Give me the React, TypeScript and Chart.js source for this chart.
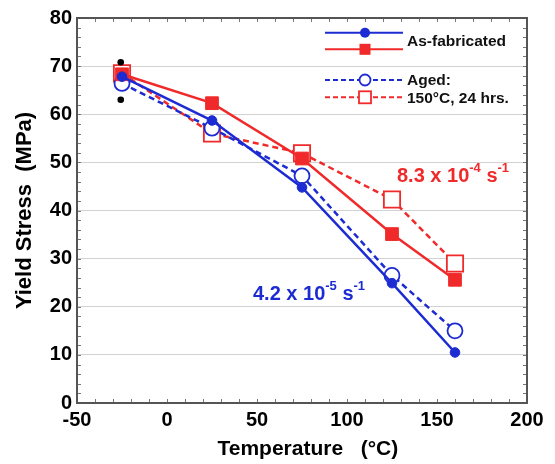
import React, { useEffect, useRef } from 'react';
import { Chart, registerables } from 'chart.js';

Chart.register(...registerables);

// ---- data ----
const temperatures = [-25, 25, 75, 125, 160];
const asFabSlow = [67.8, 58.7, 44.8, 24.9, 10.5]; // 4.2e-5 /s, as-fabricated (blue filled)
const asFabFast = [68.3, 62.3, 50.8, 35.1, 25.6]; // 8.3e-4 /s, as-fabricated (red filled)
const agedSlow = [66.4, 57.1, 47.2, 26.5, 15.0]; // aged (blue open)
const agedFast = [68.5, 56.0, 51.9, 42.3, 29.0]; // aged (red open)
const extraX = [-25.7, -25.7];
const extraY = [70.8, 63.0];

const xTicks = [-50, 0, 50, 100, 150, 200];
const yTicks = [0, 10, 20, 30, 40, 50, 60, 70, 80];

const BLUE = '#1c2bd2';
const RED = '#f02a2a';
const FONT = '"Liberation Sans", Arial, sans-serif';

const toPts = (xs: number[], ys: number[]) => xs.map((x, i) => ({ x, y: ys[i] }));

function drawSci(ctx: CanvasRenderingContext2D, x: number, baseline: number, color: string,
  parts: { t: string; sup: boolean }[]) {
  ctx.fillStyle = color;
  ctx.textAlign = 'left';
  ctx.textBaseline = 'alphabetic';
  let cx = x;
  for (const p of parts) {
    ctx.font = p.sup ? `bold 13px ${FONT}` : `bold 20px ${FONT}`;
    ctx.fillText(p.t, cx, p.sup ? baseline - 10 : baseline);
    cx += ctx.measureText(p.t).width;
  }
}

const decorPlugin = {
  id: 'decor',
  afterDraw(chart: any) {
    const { ctx, chartArea } = chart;
    const { left, right, top, bottom } = chartArea;
    const xs = chart.scales.x;
    const ys = chart.scales.y;
    ctx.save();
    // minor ticks inside on all sides
    ctx.strokeStyle = '#777';
    ctx.lineWidth = 1;
    ctx.beginPath();
    for (let v = -40; v < 200; v += 10) {
      const px = Math.round(xs.getPixelForValue(v)) + 0.5;
      ctx.moveTo(px, bottom); ctx.lineTo(px, bottom - 4);
      ctx.moveTo(px, top); ctx.lineTo(px, top + 4);
    }
    for (let v = 2; v < 80; v += 2) {
      const py = Math.round(ys.getPixelForValue(v)) + 0.5;
      ctx.moveTo(left, py); ctx.lineTo(left + 4, py);
      ctx.moveTo(right, py); ctx.lineTo(right - 4, py);
    }
    ctx.stroke();
    // frame
    ctx.strokeStyle = '#555';
    ctx.lineWidth = 2;
    ctx.strokeRect(left, top, right - left, bottom - top);

    // legend
    const lx0 = 325, lx1 = 403, mx = 365;
    const legendLine = (y: number, color: string, dashed: boolean) => {
      ctx.beginPath();
      ctx.strokeStyle = color;
      ctx.lineWidth = 2;
      ctx.setLineDash(dashed ? [5, 3] : []);
      ctx.moveTo(lx0, y); ctx.lineTo(lx1, y);
      ctx.stroke();
      ctx.setLineDash([]);
    };
    legendLine(32.7, BLUE, false);
    ctx.beginPath(); ctx.fillStyle = BLUE; ctx.arc(mx, 32.7, 5, 0, Math.PI * 2); ctx.fill();
    legendLine(49.3, RED, false);
    ctx.fillStyle = RED; ctx.fillRect(mx - 5.5, 49.3 - 5.5, 11, 11);
    legendLine(80, BLUE, true);
    ctx.beginPath(); ctx.fillStyle = '#fff'; ctx.strokeStyle = BLUE; ctx.lineWidth = 1.8;
    ctx.arc(mx, 80, 5.5, 0, Math.PI * 2); ctx.fill(); ctx.stroke();
    legendLine(97.3, RED, true);
    ctx.fillStyle = '#fff'; ctx.strokeStyle = RED; ctx.lineWidth = 1.8;
    ctx.fillRect(mx - 6, 97.3 - 6, 12, 12); ctx.strokeRect(mx - 6, 97.3 - 6, 12, 12);

    ctx.fillStyle = '#111';
    ctx.font = `bold 15.5px ${FONT}`;
    ctx.textAlign = 'left';
    ctx.textBaseline = 'middle';
    ctx.fillText('As-fabricated', 407, 42);
    ctx.fillText('Aged:', 407, 81);
    ctx.fillText('150°C, 24 hrs.', 407, 98.5);

    // rate annotations
    drawSci(ctx, 397, 182, RED, [
      { t: '8.3 x 10', sup: false }, { t: '-4', sup: true }, { t: ' s', sup: false }, { t: '-1', sup: true },
    ]);
    drawSci(ctx, 253, 300, BLUE, [
      { t: '4.2 x 10', sup: false }, { t: '-5', sup: true }, { t: ' s', sup: false }, { t: '-1', sup: true },
    ]);
    ctx.restore();
  },
};

export default function App() {
  const ref = useRef<HTMLCanvasElement>(null);
  useEffect(() => {
    const chart = new Chart(ref.current!, {
      type: 'scatter',
      data: {
        datasets: [
          {
            label: 'extra',
            data: toPts(extraX, extraY),
            showLine: false,
            pointStyle: 'circle',
            pointRadius: 3.3,
            backgroundColor: '#000',
            borderColor: '#000',
            borderWidth: 0,
          },
          {
            label: 'As-fabricated 4.2e-5',
            data: toPts(temperatures, asFabSlow),
            showLine: true,
            borderColor: BLUE,
            backgroundColor: BLUE,
            borderWidth: 2.5,
            pointStyle: 'circle',
            pointRadius: 4.8,
            pointBorderWidth: 1,
          },
          {
            label: 'As-fabricated 8.3e-4',
            data: toPts(temperatures, asFabFast),
            showLine: true,
            borderColor: RED,
            backgroundColor: RED,
            borderWidth: 2.5,
            pointStyle: 'rect',
            pointRadius: 9,
            pointBorderWidth: 1,
          },
          {
            label: 'Aged 4.2e-5',
            data: toPts(temperatures, agedSlow),
            showLine: true,
            borderColor: BLUE,
            backgroundColor: '#fff',
            pointBackgroundColor: '#fff',
            borderWidth: 2.5,
            borderDash: [6, 4],
            pointStyle: 'circle',
            pointRadius: 7.5,
            pointBorderWidth: 1.8,
          },
          {
            label: 'Aged 8.3e-4',
            data: toPts(temperatures, agedFast),
            showLine: true,
            borderColor: RED,
            backgroundColor: '#fff',
            pointBackgroundColor: '#fff',
            borderWidth: 2.5,
            borderDash: [6, 4],
            pointStyle: 'rect',
            pointRadius: 11.5,
            pointBorderWidth: 1.8,
          },
        ],
      },
      options: {
        animation: false,
        responsive: false,
        devicePixelRatio: 1,
        layout: { padding: { top: 18, right: 28, bottom: 0, left: 0 } },
        plugins: { legend: { display: false }, tooltip: { enabled: false } },
        scales: {
          x: {
            type: 'linear',
            min: -50,
            max: 200,
            afterBuildTicks: (s: any) => { s.ticks = xTicks.map((v) => ({ value: v })); },
            afterFit: (s: any) => { s.height = 61; },
            grid: { display: false, drawTicks: false },
            border: { display: false },
            ticks: { color: '#000', padding: 5, font: { family: FONT, size: 20, weight: 'bold' } },
            title: {
              display: true,
              text: '  Temperature   (°C)',
              color: '#000',
              padding: { top: 0, bottom: 2 },
              font: { family: FONT, size: 21, weight: 'bold' },
            },
          },
          y: {
            type: 'linear',
            min: 0,
            max: 80,
            afterBuildTicks: (s: any) => { s.ticks = yTicks.map((v) => ({ value: v })); },
            afterFit: (s: any) => { s.width = 77; },
            grid: { color: '#d2d2d2', lineWidth: 1, drawTicks: false },
            border: { display: false },
            ticks: { color: '#000', padding: 5, font: { family: FONT, size: 20, weight: 'bold' } },
            title: {
              display: true,
              text: 'Yield Stress  (MPa)',
              color: '#000',
              padding: { top: 12, bottom: 0 },
              font: { family: FONT, size: 22, weight: 'bold' },
            },
          },
        },
      },
      plugins: [decorPlugin],
    } as any);
    return () => chart.destroy();
  }, []);
  return (
    <div style={{ position: 'absolute', left: 0, top: 0, width: 555, height: 464, background: '#fff' }}>
      <canvas ref={ref} width={555} height={464} style={{ display: 'block' }} />
    </div>
  );
}
